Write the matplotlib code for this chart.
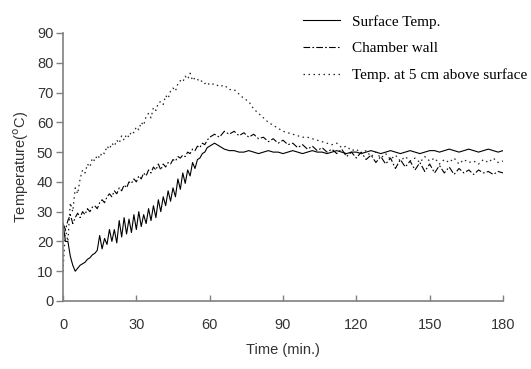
import matplotlib
matplotlib.use("Agg")
import matplotlib.pyplot as plt

time_min = list(range(0, 61)) + list(range(62, 181, 2))

surface_temp = [
    26, 20, 20, 15, 12, 10, 11, 12, 12.5, 13,
    14, 14.5, 15.5, 16, 17, 22, 17.5, 21, 19, 24,
    20, 24, 19.5, 27, 21.5, 28, 22.5, 27.5, 23, 29,
    24, 30, 25, 29, 26, 31, 27, 32, 28, 34,
    30, 35, 32, 37, 33.5, 38, 35, 41, 37.5, 43,
    39.5, 44, 42, 46.5, 44.5, 47.5, 48, 49.5, 50, 51.5,
    52,
    53, 52, 51, 50.5, 50.5, 50, 50, 50.5, 50, 49.5,
    50, 50.5, 50, 50, 49.5, 50, 50.5, 50, 49.5, 50,
    50.5, 50, 50, 49.5, 50, 50.5, 50, 49.5, 50, 50,
    49.5, 50, 50.5, 50, 49.5, 50, 50.5, 50, 49.5, 50,
    50.5, 50, 49.5, 50, 50.5, 50.5, 50, 50.5, 51, 50.5,
    50, 50.5, 51, 50.5, 50, 50.5, 51, 50.5, 50, 50.5,
]

chamber_wall = [
    26, 24, 27, 29, 26, 28, 29.5, 28, 30, 29,
    31, 30, 31.5, 32, 31, 33, 34, 33, 35, 36,
    35, 37, 36, 38, 37, 39, 38, 40, 39.5, 41,
    40, 42, 41, 43, 42, 44, 43, 45, 44, 46,
    44, 46, 45, 46.5, 46, 47.5, 47, 48.5, 48, 49,
    48.5, 50, 49.5, 51, 50.5, 52, 51.5, 53, 52.5, 54,
    55,
    56, 55, 57, 56, 57, 55.5, 56.5, 55, 56, 54.5,
    55, 53.5, 54.5, 53, 54, 52.5, 53, 51.5, 52.5, 51,
    52, 50.5, 51.5, 50, 51, 49.5, 51, 48.5, 50, 48,
    50, 47.5, 49, 46.5, 48.5, 46, 48, 44.5, 47.5, 45,
    47, 44, 46.5, 43.5, 46, 43, 45.5, 43, 45, 42.5,
    44.5, 43, 44, 42.5, 44, 43, 43.5, 42.5, 43.5, 43,
]

above_surface = [
    10, 24, 20, 33, 30, 38, 36, 41, 44, 43,
    46, 45, 48, 47, 49, 48, 50, 49.5, 52, 51,
    53, 52, 54, 53, 55.5, 54, 56, 55, 57, 56.5,
    58.5, 57.5, 60, 59, 62, 63, 61.5, 65, 64, 66.5,
    67, 66, 69, 68, 70.5, 71.5, 70.5, 73, 74, 73.5,
    75.5, 74.5, 76.5, 74, 75, 74.5, 73.5, 74, 73, 73.5,
    72.5,
    73, 72, 72.5, 71, 71, 69.5, 68, 67, 64.5, 63,
    61.5, 60, 59, 58, 57, 56.5, 56, 55.5, 55, 55,
    54.5, 54, 53.5, 53, 52.5, 53, 51.5, 52, 50.5, 51,
    49.5, 50.5, 48.5, 50, 48, 49.5, 47.5, 49, 47, 48.5,
    47, 48, 46.5, 48.5, 47, 48, 46, 47.5, 46.5, 48,
    46, 47.5, 46.5, 47, 46, 47.5, 46.5, 48, 46.5, 47,
]

labels = ["Surface Temp.", "Chamber wall", "Temp. at 5 cm above surface"]
x_ticks = [0, 30, 60, 90, 120, 150, 180]
y_ticks = [0, 10, 20, 30, 40, 50, 60, 70, 80, 90]

plt.rcParams['font.family'] = ['Liberation Sans', 'DejaVu Sans']

fig = plt.figure(figsize=(5.31, 3.69), dpi=100)
ax = fig.add_axes([63/531, 1-301/369, 440/531, 268/369])

ax.plot(time_min, surface_temp, color='black', lw=0.8, ls='-', label=labels[0])
ax.plot(time_min, chamber_wall, color='black', lw=0.8, ls=(0, (6, 2, 1.5, 2)), label=labels[1])
ax.plot(time_min, above_surface, color='#222222', lw=0.9, ls=(0, (1.2, 2.8)), label=labels[2])

ax.set_xlim(0, 180)
ax.set_ylim(0, 90)
ax.set_xticks(x_ticks)
ax.set_yticks(y_ticks)

gray = '#808080'
for s in ['top', 'right']:
    ax.spines[s].set_visible(False)
for s in ['left', 'bottom']:
    ax.spines[s].set_color(gray)
    ax.spines[s].set_linewidth(1.2)

ax.tick_params(axis='x', direction='in', length=4, width=1, color=gray,
               pad=12, labelsize=10.5, labelcolor='#333333')
ax.tick_params(axis='y', direction='out', length=5, width=1, color=gray,
               pad=2, labelsize=10.5, labelcolor='#333333')

ax.set_xlabel("Time (min.)", fontsize=10.5, color='#333333', labelpad=8)
ax.set_ylabel("Temperature($^{\\rm o}$C)", fontsize=10.5, color='#333333', labelpad=4)

leg = ax.legend(loc='upper left', bbox_to_anchor=(303/531, 1-15/369),
                bbox_transform=fig.transFigure, frameon=False,
                borderpad=0, borderaxespad=0, handlelength=2.4,
                handletextpad=0.8, labelspacing=0.85,
                prop={'family': 'Liberation Serif', 'size': 11})

fig.savefig("out.png", dpi=100)
